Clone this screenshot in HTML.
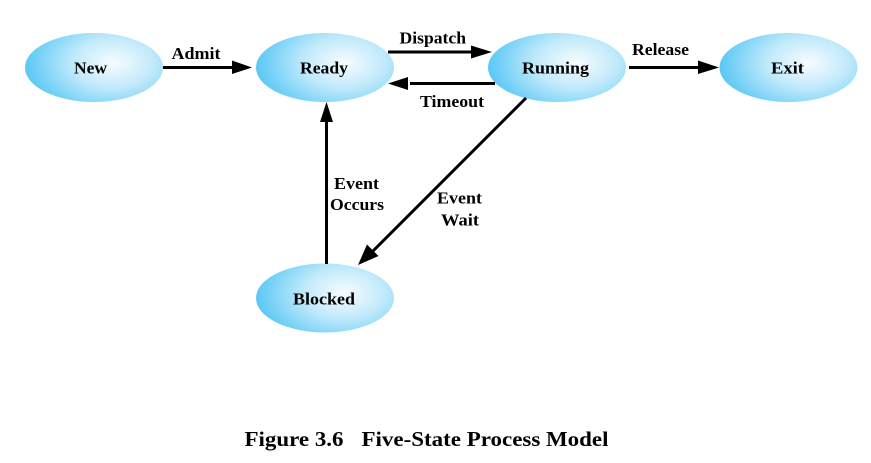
<!DOCTYPE html>
<html><head><meta charset="utf-8"><style>html,body{margin:0;padding:0;background:#fff;width:871px;height:463px;overflow:hidden}svg{display:block}text{font-family:"Liberation Serif",serif;font-weight:bold;fill:#000}</style></head><body>
<svg width="871" height="463" viewBox="0 0 871 463" xmlns="http://www.w3.org/2000/svg">
<defs><radialGradient id="g" gradientUnits="objectBoundingBox" cx="0" cy="0" r="1" gradientTransform="translate(0.64 0.43) scale(0.64 0.8)"><stop offset="0" stop-color="#f7fcff"/><stop offset="0.45" stop-color="#c2eafb"/><stop offset="1" stop-color="#5ac8f5"/></radialGradient></defs>
<ellipse cx="94" cy="67.5" rx="69" ry="34.5" fill="url(#g)"/>
<ellipse cx="325" cy="67.5" rx="69" ry="34.5" fill="url(#g)"/>
<ellipse cx="557" cy="67.5" rx="69" ry="34.5" fill="url(#g)"/>
<ellipse cx="788.5" cy="67.5" rx="69" ry="34.5" fill="url(#g)"/>
<ellipse cx="325" cy="298" rx="69" ry="34.5" fill="url(#g)"/>
<g stroke="#000" stroke-width="3" fill="none">
<path d="M163 67.5H235"/><path d="M388 52H475"/><path d="M495 83.5H410"/><path d="M629 67.5H702"/><path d="M326.500 264V122"/><path d="M526 98L372 252"/>
</g>
<g fill="#000">
<path d="M232 60.500L252 67.500L232 74Z"/>
<path d="M471 45.500L492 52L471 58.500Z"/>
<path d="M408 77L388 83.500L408 90Z"/>
<path d="M698 60.500L719 67.500L698 74Z"/>
<path d="M320 122L326.500 102L333 122Z"/>
<path d="M358 265L367 244.500L378.500 256Z"/>
</g>
<g font-size="16.500">
<text x="74" y="73.700" textLength="33" lengthAdjust="spacingAndGlyphs">New</text>
<text x="300" y="73.700" textLength="48" lengthAdjust="spacingAndGlyphs">Ready</text>
<text x="522" y="73.700" textLength="67" lengthAdjust="spacingAndGlyphs">Running</text>
<text x="771" y="73.700" textLength="33" lengthAdjust="spacingAndGlyphs">Exit</text>
<text x="293" y="304.700" textLength="62" lengthAdjust="spacingAndGlyphs">Blocked</text>
<text x="171.500" y="59.200" textLength="49" lengthAdjust="spacingAndGlyphs">Admit</text>
<text x="399.500" y="43.700" textLength="66.500" lengthAdjust="spacingAndGlyphs">Dispatch</text>
<text x="632" y="55.200" textLength="57" lengthAdjust="spacingAndGlyphs">Release</text>
<text x="420" y="107" textLength="64" lengthAdjust="spacingAndGlyphs">Timeout</text>
<text x="334" y="189" textLength="45" lengthAdjust="spacingAndGlyphs">Event</text>
<text x="330" y="210.200" textLength="54" lengthAdjust="spacingAndGlyphs">Occurs</text>
<text x="437" y="203.700" textLength="45" lengthAdjust="spacingAndGlyphs">Event</text>
<text x="441" y="225.700" textLength="38" lengthAdjust="spacingAndGlyphs">Wait</text>
</g>
<text x="244.500" y="446.200" font-size="21" textLength="99" lengthAdjust="spacingAndGlyphs">Figure 3.6</text>
<text x="361.500" y="446.200" font-size="21" textLength="247" lengthAdjust="spacingAndGlyphs">Five-State Process Model</text>
</svg>
</body></html>
